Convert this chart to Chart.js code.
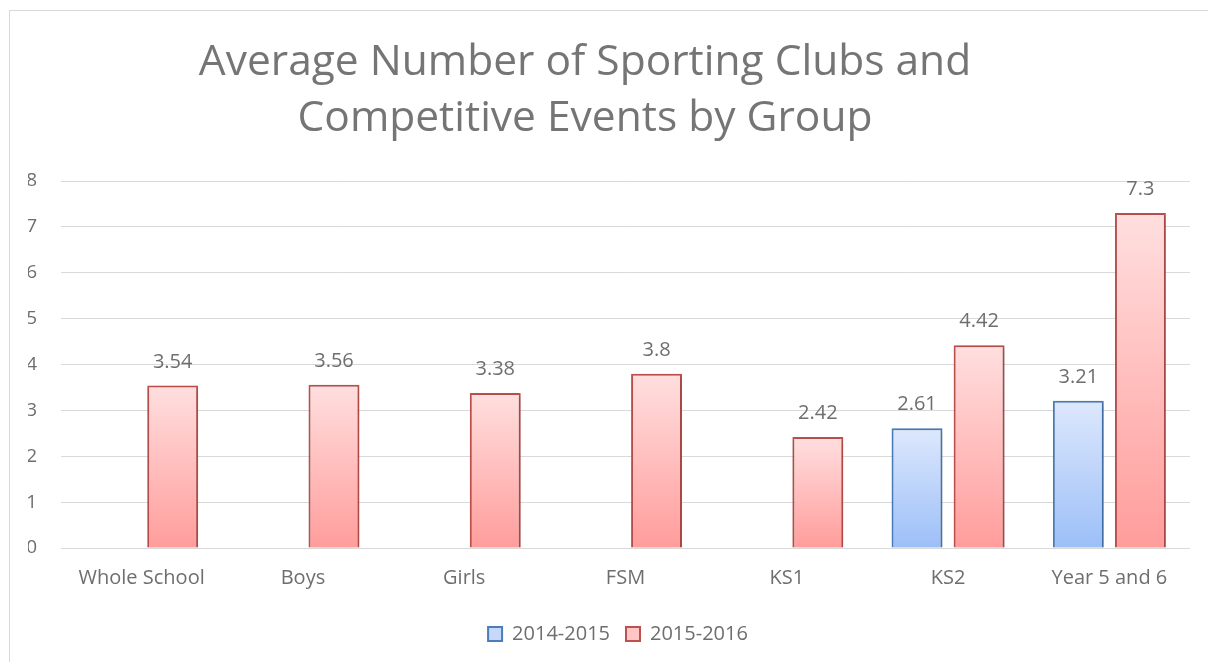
<!DOCTYPE html>
<html>
<head>
<meta charset="utf-8">
<script src="https://cdn.jsdelivr.net/npm/chart.js@4.4.1/dist/chart.umd.min.js"></script>
<style>
  html, body { margin: 0; padding: 0; background: #fff; }
  #wrap { position: relative; width: 1208px; height: 662px; }
  #frame { position: absolute; left: 9px; top: 10px; width: 1210px; height: 670px; border-left: 1px solid #d9d9d9; border-top: 1px solid #d9d9d9; box-sizing: border-box; }
  canvas { position: absolute; left: 0; top: 0; }
</style>
</head>
<body>
<div id="wrap">
  <div id="frame"></div>
  <canvas id="c" width="1208" height="662"></canvas>
</div>
<script>
const titleLines = ["Average Number of Sporting Clubs and", "Competitive Events by Group"];
const categories = ["Whole School", "Boys", "Girls", "FSM", "KS1", "KS2", "Year 5 and 6"];
const seriesNames = ["2014-2015", "2015-2016"];
const values2014 = [null, null, null, null, null, 2.61, 3.21];
const values2015 = [3.54, 3.56, 3.38, 3.8, 2.42, 4.42, 7.3];
const yTicks = [0, 1, 2, 3, 4, 5, 6, 7, 8];

const FONT = "'Open Sans', sans-serif";
const TEXT = "#6e6e6e";

function barGradient(top, bottom) {
  return function (ctx) {
    const chart = ctx.chart;
    const ys = chart.scales && chart.scales.y;
    if (!chart.chartArea || !ys || ctx.raw == null) return bottom;
    const yTop = ys.getPixelForValue(ctx.raw);
    const yBase = ys.getPixelForValue(0);
    if (!isFinite(yTop) || !isFinite(yBase) || yTop === yBase) return bottom;
    const g = chart.ctx.createLinearGradient(0, yTop, 0, yBase);
    g.addColorStop(0, top);
    g.addColorStop(1, bottom);
    return g;
  };
}

const shadowPlugin = {
  id: 'barShadow',
  beforeDatasetsDraw(chart) {
    const ctx = chart.ctx;
    ctx.save();
    ctx.shadowColor = 'rgba(0,0,0,0.22)';
    ctx.shadowBlur = 4;
    ctx.shadowOffsetX = 1;
    ctx.shadowOffsetY = 1;
  },
  afterDatasetsDraw(chart) {
    chart.ctx.restore();
  }
};

const titlePlugin = {
  id: 'customTitle',
  afterDraw(chart) {
    const ctx = chart.ctx;
    ctx.save();
    ctx.fillStyle = "#757575";
    ctx.font = "42.5px " + FONT;
    ctx.textAlign = "center";
    ctx.textBaseline = "alphabetic";
    ctx.fillText(titleLines[0], 585, 75);
    ctx.fillText(titleLines[1], 585, 131);
    ctx.restore();
  }
};

const labelPlugin = {
  id: 'valueLabels',
  afterDatasetsDraw(chart) {
    const ctx = chart.ctx;
    ctx.save();
    ctx.shadowColor = 'rgba(0,0,0,0)';
    ctx.fillStyle = TEXT;
    ctx.font = "20px " + FONT;
    ctx.textAlign = "center";
    ctx.textBaseline = "alphabetic";
    chart.data.datasets.forEach((ds, di) => {
      const meta = chart.getDatasetMeta(di);
      meta.data.forEach((el, i) => {
        const v = ds.data[i];
        if (v == null) return;
        ctx.fillText(String(v), el.x, el.y - 18);
      });
    });
    ctx.restore();
  }
};

new Chart(document.getElementById('c'), {
  type: 'bar',
  data: {
    labels: categories,
    datasets: [
      {
        label: seriesNames[0],
        data: values2014,
        backgroundColor: barGradient('#dde8fc', '#9cbff8'),
        borderColor: '#4a7ebb',
        borderWidth: 2,
        categoryPercentage: 0.77,
        barPercentage: 0.82
      },
      {
        label: seriesNames[1],
        data: values2015,
        backgroundColor: barGradient('#ffdfdf', '#ff9d9b'),
        borderColor: '#c0504d',
        borderWidth: 2,
        categoryPercentage: 0.77,
        barPercentage: 0.82
      }
    ]
  },
  options: {
    responsive: false,
    animation: false,
    devicePixelRatio: 1,
    layout: { padding: { top: 181, left: 28, right: 0, bottom: 8 } },
    plugins: {
      title: { display: false },
      tooltip: { enabled: false },
      legend: {
        position: 'bottom',
        labels: {
          color: TEXT,
          font: { family: FONT, size: 20 },
          boxWidth: 14,
          boxHeight: 14,
          padding: 16,
          generateLabels(chart) {
            return chart.data.datasets.map((ds, i) => ({
              text: ds.label,
              fillStyle: i === 0 ? '#c6d9fa' : '#ffc6c5',
              strokeStyle: ds.borderColor,
              lineWidth: 2,
              datasetIndex: i,
              fontColor: TEXT
            }));
          }
        }
      }
    },
    scales: {
      x: {
        grid: { display: false, drawTicks: false },
        border: { display: false },
        ticks: { color: TEXT, font: { family: FONT, size: 20 }, padding: 18 },
        afterFit(axis) { axis.paddingLeft = 0; axis.paddingRight = 18; }
      },
      y: {
        min: 0,
        max: 8,
        afterBuildTicks(axis) { axis.ticks = yTicks.map(v => ({ value: v })); },
        grid: { color: '#d9d9d9', lineWidth: 1, drawTicks: false },
        border: { display: false },
        ticks: { color: TEXT, font: { family: FONT, size: 19 }, padding: 24 },
        afterFit(axis) { axis.width = 33; axis.paddingTop = 0; axis.paddingBottom = 0; }
      }
    }
  },
  plugins: [shadowPlugin, titlePlugin, labelPlugin]
});
</script>
</body>
</html>
